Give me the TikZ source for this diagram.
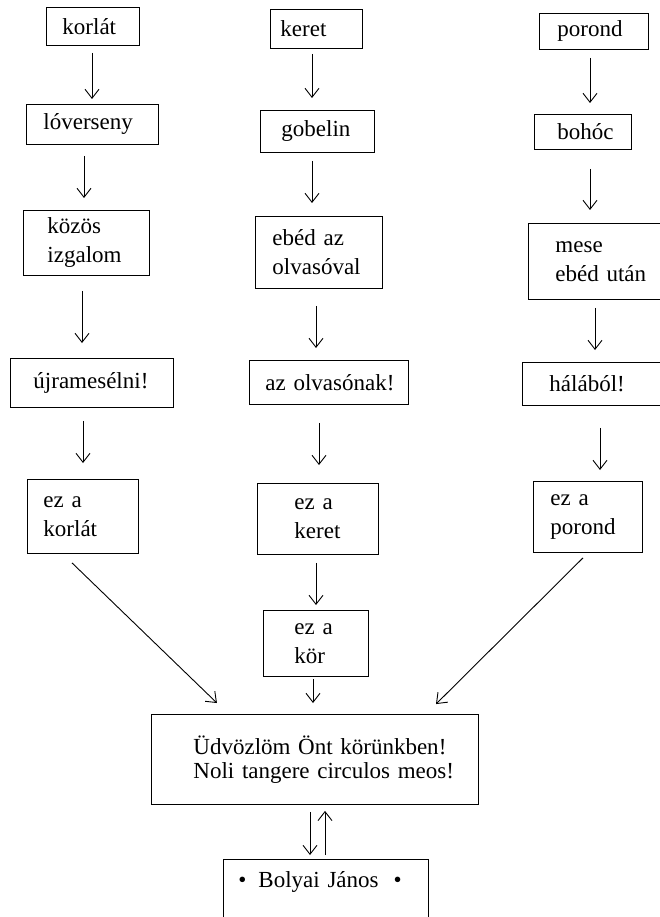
\documentclass[tikz,border=0pt]{standalone}
\usepackage{fontspec}
\setmainfont{Liberation Serif}
\usetikzlibrary{arrows.meta}
\newcommand\fz{\fontsize{23}{29}\selectfont}
\newcommand\fzm{\fontsize{23}{24}\selectfont}
\begin{document}
\begin{tikzpicture}[x=1pt,y=-1pt,
  box/.style={draw, line width=0.9pt, rectangle, align=left, inner ysep=0pt, anchor=north west, font=\fz},
  arr/.style={line width=0.9pt, -{Straight Barb[length=9pt,width=14pt]}}]
\useasboundingbox (0,0) rectangle (660,917);
\clip (0,0) rectangle (660,917);
% column 1
\node[box, minimum width=93pt, minimum height=38pt, inner xsep=16pt, text width=61pt] (A1) at (46,7) {\mbox{korlát}};
\node[box, minimum width=132pt, minimum height=40pt, inner xsep=17pt, text width=98pt] (A2) at (26,104) {\mbox{lóverseny}};
\node[box, minimum width=126pt, minimum height=65pt, inner xsep=24pt, text width=78pt] (A3) at (23,210) {\mbox{közös}\\\mbox{izgalom}};
\node[box, minimum width=163pt, minimum height=49pt, inner xsep=23pt, text width=117pt] (A4) at (10,358) {\mbox{újramesélni!}};
\node[box, minimum width=111pt, minimum height=74pt, inner xsep=16pt, text width=79pt] (A5) at (27,479) {\mbox{ez a}\\\mbox{korlát}};
% column 2
\node[box, minimum width=92pt, minimum height=39pt, inner xsep=10pt, text width=72pt] (B1) at (270,9) {\mbox{keret}};
\node[box, minimum width=114pt, minimum height=42pt, inner xsep=21pt, text width=72pt] (B2) at (260,110) {\mbox{gobelin}};
\node[box, minimum width=127pt, minimum height=72pt, inner xsep=17pt, text width=93pt] (B3) at (255,216) {\mbox{ebéd az}\\\mbox{olvasóval}};
\node[box, minimum width=159pt, minimum height=44pt, inner xsep=16pt, text width=127pt] (B4) at (249,360) {\mbox{az olvasónak!}};
\node[box, minimum width=121pt, minimum height=71pt, inner xsep=37pt, text width=47pt] (B5) at (257,483) {\mbox{ez a}\\\mbox{keret}};
\node[box, minimum width=105pt, minimum height=66pt, inner xsep=31pt, text width=43pt] (B6) at (263,610) {\mbox{ez a}\\\mbox{kör}};
% column 3
\node[box, minimum width=109pt, minimum height=36pt, inner xsep=18pt, text width=73pt] (C1) at (539,13) {\mbox{porond}};
\node[box, minimum width=97pt, minimum height=35pt, inner xsep=23pt, text width=51pt] (C2) at (534,114) {\mbox{bohóc}};
\node[box, minimum width=162pt, minimum height=76pt, inner xsep=27pt, text width=108pt] (C3) at (528,223) {\mbox{mese}\\\mbox{ebéd után}};
\node[box, minimum width=168pt, minimum height=43pt, inner xsep=27pt, text width=114pt] (C4) at (522,362) {\mbox{hálából!}};
\node[box, minimum width=109pt, minimum height=71pt, inner xsep=17pt, text width=75pt] (C5) at (533,481) {\mbox{ez a}\\\mbox{porond}};
% main and bottom
\node[box, font=\fzm, minimum width=327pt, minimum height=90pt, inner xsep=42pt, text width=243pt] (M) at (151,714) {\mbox{Üdvözlöm Önt körünkben!}\\\mbox{Noli tangere circulos meos!}};
\node[box, minimum width=205pt, inner xsep=15pt, inner ysep=12pt, text width=175pt, text depth=70pt] (P) at (223,859) {\mbox{•\hspace{12pt}Bolyai János\hspace{15pt}•}};
% x positions of connectors
\coordinate (x92) at (92,0);
\coordinate (x84) at (84,0);
\coordinate (x82) at (82,0);
\coordinate (x83) at (83,0);
\coordinate (x312) at (312,0);
\coordinate (x316) at (316,0);
\coordinate (x319) at (319,0);
\coordinate (x313) at (313,0);
\coordinate (x590) at (590,0);
\coordinate (x595) at (595,0);
\coordinate (x600) at (600,0);
\coordinate (x310) at (310,0);
\coordinate (x325) at (325,0);
\coordinate (dA) at (62.7,0);
\coordinate (dB) at (228.3,0);
\coordinate (dC) at (588,0);
\coordinate (dD) at (426,0);
% column 1 arrows
\draw[arr, shorten <=7pt, shorten >=5pt] (A1.south -| x92) -- (A2.north -| x92);
\draw[arr, shorten <=11pt, shorten >=12pt] (A2.south -| x84) -- (A3.north -| x84);
\draw[arr, shorten <=15pt, shorten >=15pt] (A3.south -| x82) -- (A4.north -| x82);
\draw[arr, shorten <=13pt, shorten >=16pt] (A4.south -| x83) -- (A5.north -| x83);
% column 2 arrows
\draw[arr, shorten <=5pt, shorten >=12pt] (B1.south -| x312) -- (B2.north -| x312);
\draw[arr, shorten <=8pt, shorten >=13pt] (B2.south -| x312) -- (B3.north -| x312);
\draw[arr, shorten <=17pt, shorten >=12pt] (B3.south -| x316) -- (B4.north -| x316);
\draw[arr, shorten <=18pt, shorten >=18pt] (B4.south -| x319) -- (B5.north -| x319);
\draw[arr, shorten <=8pt, shorten >=5pt] (B5.south -| x316) -- (B6.north -| x316);
\draw[arr, shorten <=2pt, shorten >=11pt] (B6.south -| x313) -- (M.north -| x313);
% column 3 arrows
\draw[arr, shorten <=8pt, shorten >=11pt] (C1.south -| x590) -- (C2.north -| x590);
\draw[arr, shorten <=19pt, shorten >=13pt] (C2.south -| x590) -- (C3.north -| x590);
\draw[arr, shorten <=8pt, shorten >=12pt] (C3.south -| x595) -- (C4.north -| x595);
\draw[arr, shorten <=22pt, shorten >=11pt] (C4.south -| x600) -- (C5.north -| x600);
% diagonals
\draw[arr, shorten <=12.9pt, shorten >=15.8pt] (A5.south -| dA) -- (M.north -| dB);
\draw[arr, shorten <=7.1pt, shorten >=14.1pt] (C5.south -| dC) -- (M.north -| dD);
% main <-> bottom
\draw[arr, shorten <=7pt, shorten >=4pt] (M.south -| x310) -- (P.north -| x310);
\draw[arr, shorten <=4pt, shorten >=6pt] (P.north -| x325) -- (M.south -| x325);
\end{tikzpicture}
\end{document}
